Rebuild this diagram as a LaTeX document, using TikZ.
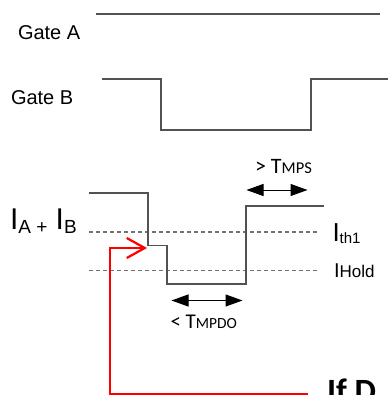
\documentclass[tikz,border=0pt]{standalone}
\usepackage{fontspec}
\setmainfont{Liberation Sans}
\newfontfamily\calfont{Carlito}
\usetikzlibrary{arrows.meta}
\begin{document}
\begin{tikzpicture}[x=1pt,y=-1pt,
  wave/.style={draw=black!68, line width=1.4pt},
  thresh/.style={draw=black!55, line width=1.1pt, dash pattern=on 4pt off 3pt},
  lbl/.style={anchor=base west, inner sep=0pt, outer sep=0pt},
  span/.style={line width=1pt, {Triangle[length=17pt,width=12pt]}-{Triangle[length=17pt,width=12pt]}},
  feedback/.style={draw=red, line width=2.2pt, -{Straight Barb[length=18pt,width=20pt]}}]
\useasboundingbox (0,0) rectangle (388,395);
% waveforms
\draw[wave] (96,14) -- (380,14);
\draw[wave] (102,79) -- (161,79) -- (161,130) -- (311,130) -- (311,79) -- (388,79);
\draw[thresh] (89,232) -- (318,232);
\draw[thresh] (89,270.5) -- (318,270.5);
\draw[wave] (89,193) -- (148,193) -- (148,245.5) -- (167,245.5) -- (167,284) -- (246,284) -- (246,206) -- (324,206);
% labels
\node[lbl, font=\fontsize{20}{20}\selectfont] (ga) at (18,40) {Gate A};
\node[lbl, font=\fontsize{20}{20}\selectfont] (gb) at (11,104.5) {Gate B};
\node[lbl] (iab) at (10,229) {\fontsize{30}{30}\selectfont I\raisebox{-4pt}{\fontsize{19}{19}\selectfont A +} I\raisebox{-4pt}{\fontsize{19}{19}\selectfont B}};
\node[lbl] (ith) at (332.5,241.5) {\fontsize{26}{26}\selectfont I\raisebox{-1.5pt}{\fontsize{15}{15}\selectfont th1}};
\node[lbl] (ihold) at (334,277.5) {\fontsize{20}{20}\selectfont I\fontsize{17}{17}\selectfont Hold};
% timing spans
\coordinate (mpsL) at (246.5,190);
\coordinate (mpsR) at (307.5,190);
\draw[span] (mpsL) -- (mpsR);
\node[lbl, font=\calfont] (tmps) at (255,173) {\fontsize{22}{22}\selectfont > T\fontsize{16.5}{16.5}\selectfont MPS};
\coordinate (mpdoL) at (171.5,300.5);
\coordinate (mpdoR) at (242.5,300.5);
\draw[span] (mpdoL) -- (mpdoR);
\node[lbl, font=\calfont] (tmpdo) at (170.5,328) {\fontsize{21}{21}\selectfont < T\fontsize{15.5}{15.5}\selectfont MPDO};
% feedback arrow
\coordinate (r0) at (308,394);
\coordinate (r1) at (110,394);
\coordinate (r2) at (110,248);
\coordinate (r3) at (147,248);
\draw[feedback] (r0) -- (r1) -- (r2) -- (r3);
\node[lbl, font=\calfont\bfseries\fontsize{34}{34}\selectfont] (ifd) at (327,402) {If D};
\end{tikzpicture}
\end{document}
